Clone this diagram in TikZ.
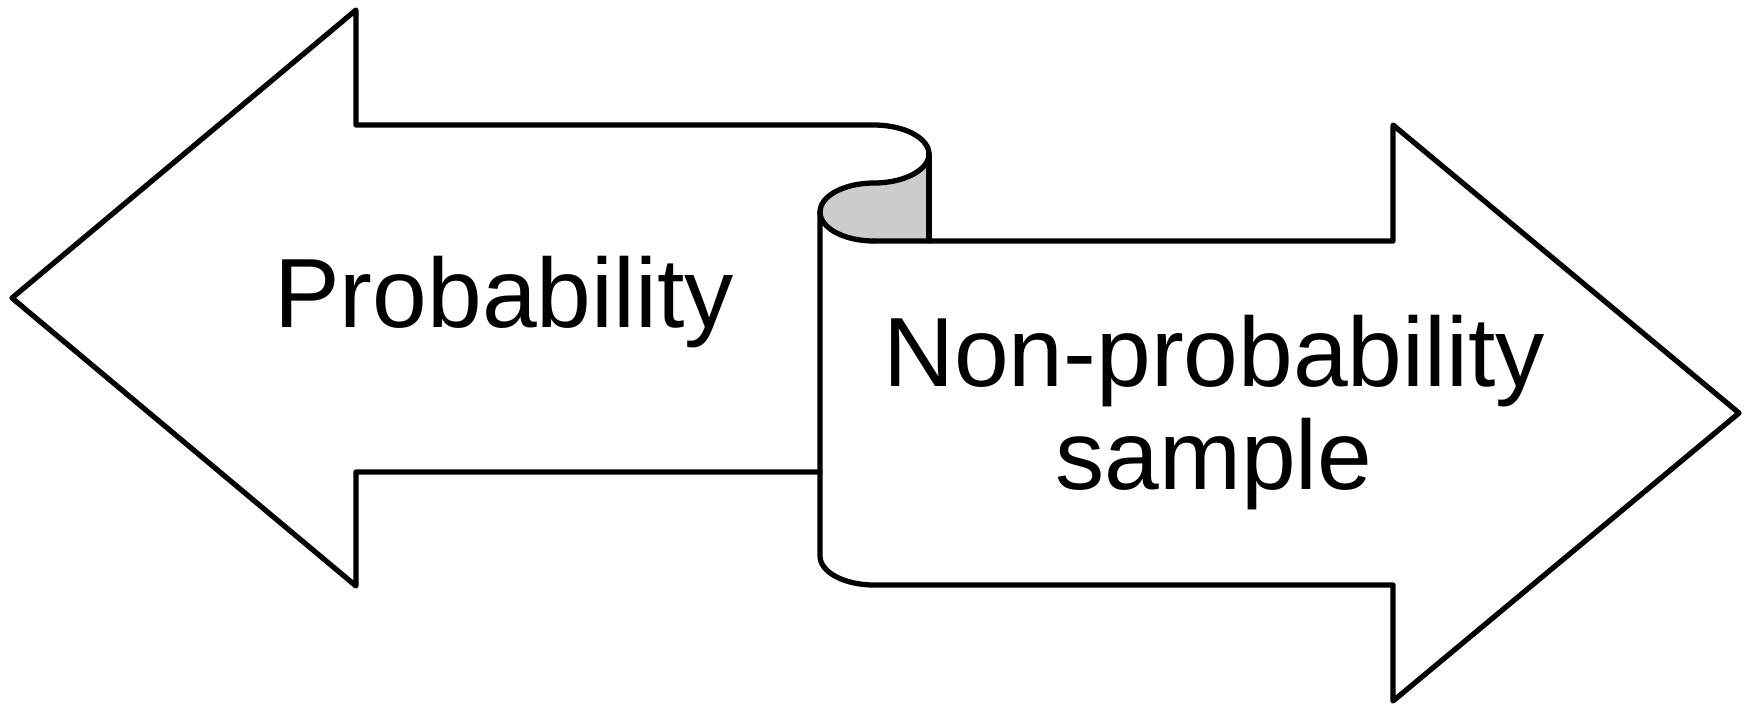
\documentclass[tikz,border=0pt]{standalone}
\usepackage{fontspec}
\setmainfont{Liberation Sans}
\usepackage{xcolor}
\usetikzlibrary{calc}
\definecolor{curlgray}{HTML}{CCCCCC}
\tikzset{ outline/.style = {line width=3pt, line join=round, line cap=round} }
\tikzset{ arrow_text/.style = {font=\fontsize{56}{58.5}\selectfont, align=center, inner sep=0pt} }

\begin{document}
\begin{tikzpicture}[x=0.02cm, y=-0.02cm]
    \useasboundingbox (0,0) rectangle (1750,704);
    % shaded inside of the curl
    \fill[curlgray] (874,183) .. controls (844,183) and (820,196) .. (820,212)
        .. controls (820,228) and (844,241) .. (874,241) -- (929,241) -- (929,154)
        .. controls (929,170) and (904,183) .. (874,183);
    % left arrow, rolling over into the curl
    \draw[outline] (820,472) -- (356,472) -- (356,586) -- (12,298) -- (356,10) -- (356,125) -- (874,125)
        .. controls (904,125) and (929,138) .. (929,154)
        .. controls (929,170) and (904,183) .. (874,183)
        .. controls (844,183) and (820,196) .. (820,212)
        .. controls (820,228) and (844,241) .. (874,241);
    \draw[outline] (929,154) -- (929,241);
    % right arrow
    \draw[outline] (874,241) -- (1393,241) -- (1393,125) -- (1739,413) -- (1393,701) -- (1393,585) -- (874,585)
        .. controls (844,585) and (820,572) .. (820,556) -- (820,212);
    \node[arrow_text, anchor=base] (prob) at (504,327) {Probability};
    \node[arrow_text, anchor=base] (nonprob) at (1214,489) {Non-probability\\sample};
\end{tikzpicture}
\end{document}
